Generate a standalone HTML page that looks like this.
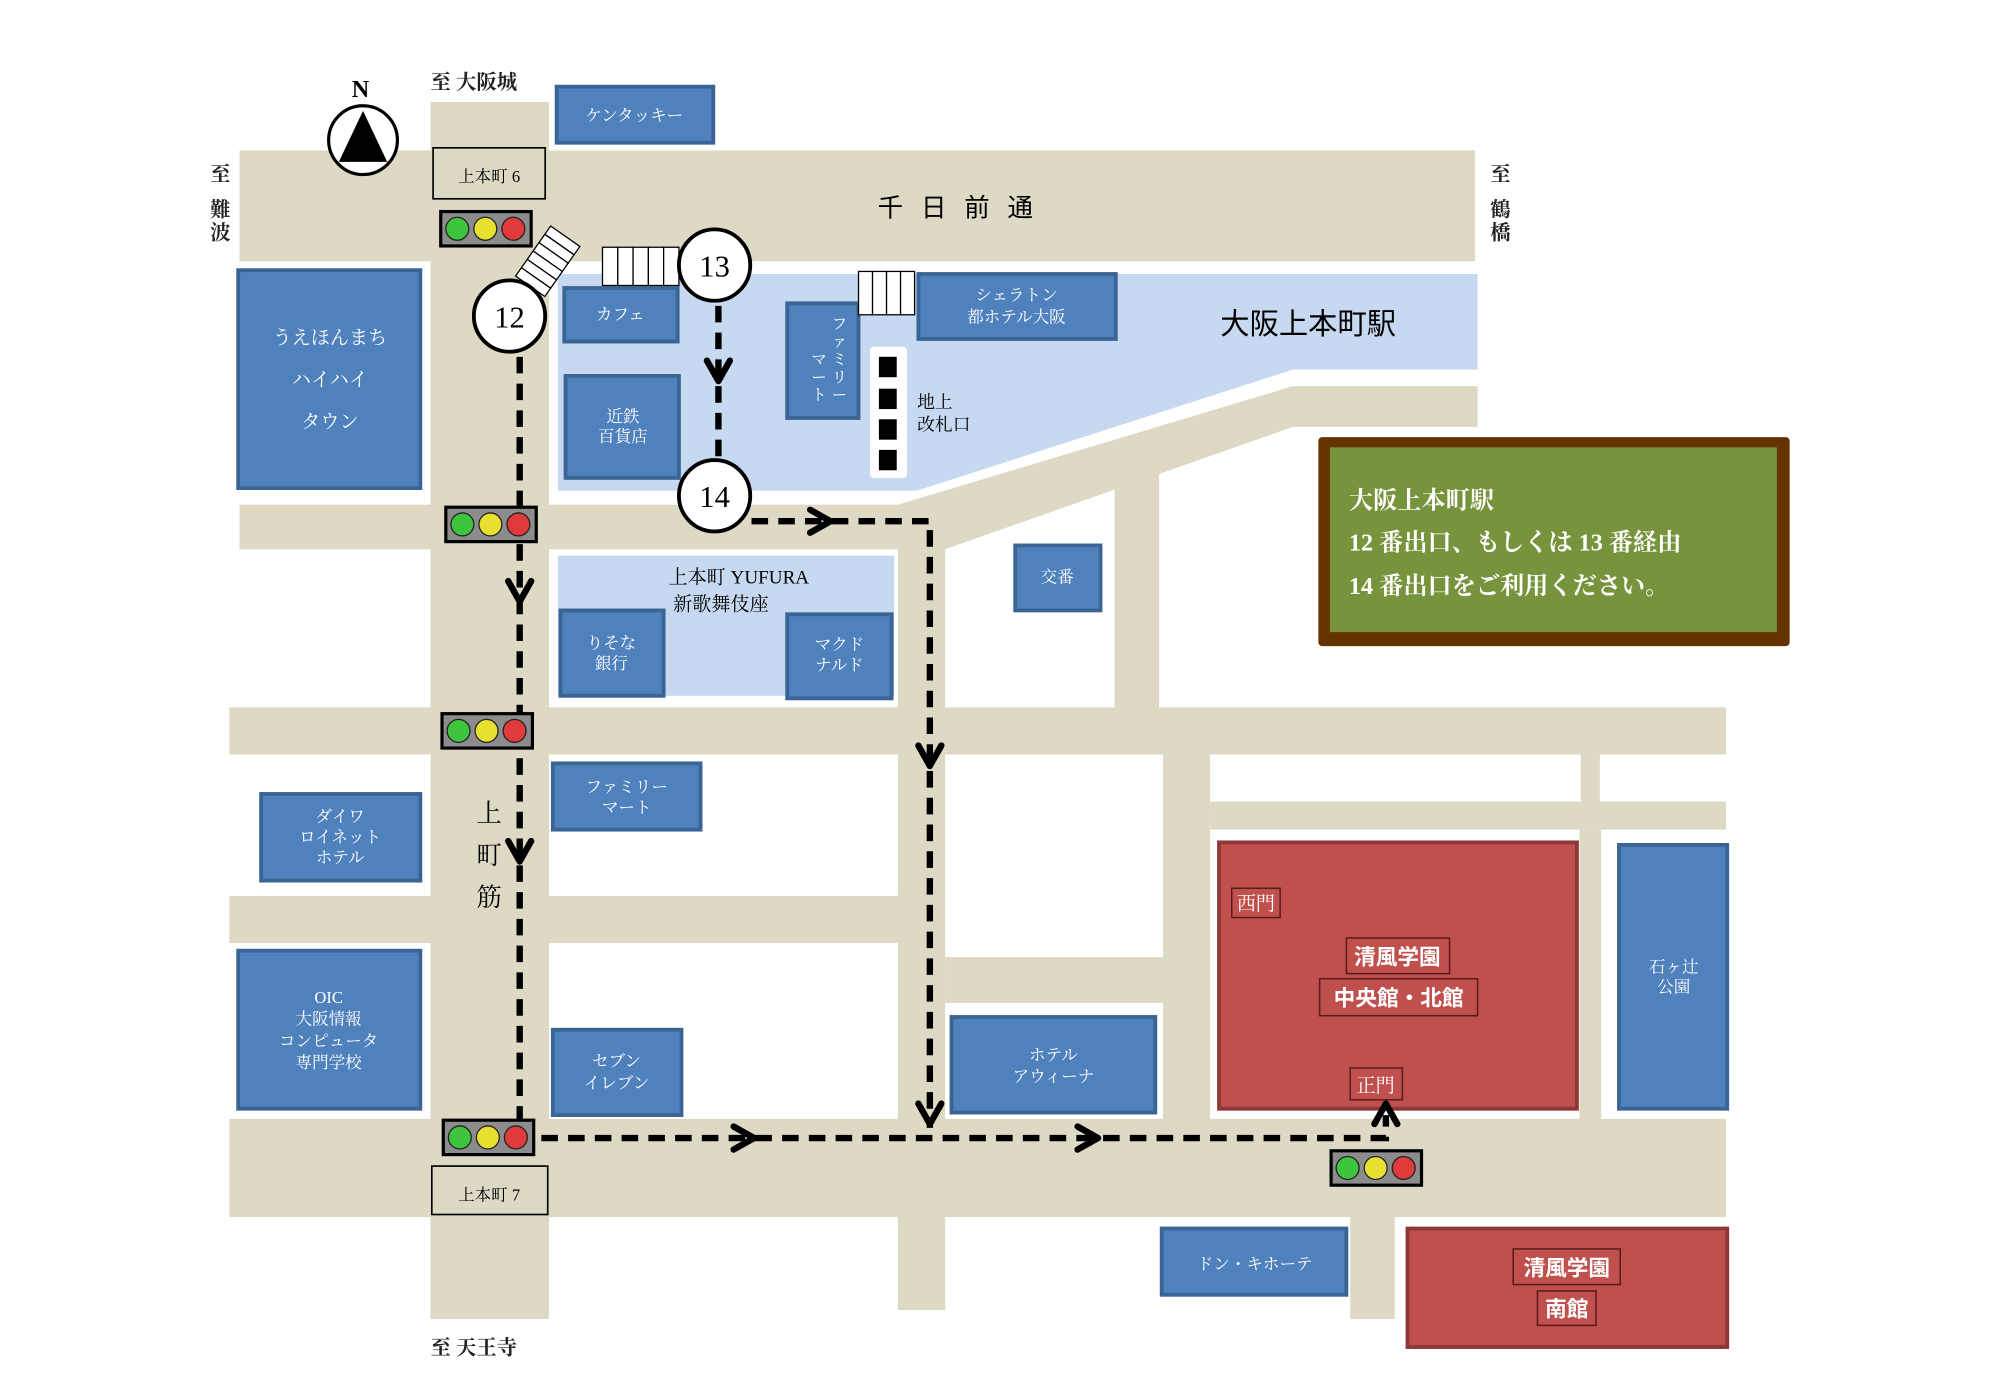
<!DOCTYPE html>
<html><head><meta charset="utf-8"><style>
html,body{margin:0;padding:0;background:#fff;}
svg{display:block;}
text{font-family:"Liberation Serif","Noto Serif CJK SC","Noto Sans CJK JP",serif;}
.w{fill:#fff;font-size:13px;text-anchor:middle;}
.b{fill:#4f81bd;stroke:#3a6494;stroke-width:3;}
.r{fill:#c0504d;stroke:#8c3836;stroke-width:3;}
.rd{fill:#ddd9c4;}
.lb{fill:#c6d9f1;}
.dash{stroke:#000;stroke-width:5;stroke-dasharray:13,8;fill:none;}
.ar{stroke:#000;stroke-width:5;fill:none;stroke-linecap:round;stroke-linejoin:round;}
.lab{fill:#c0504d;stroke:#5a1c1a;stroke-width:1.2;}
.wb{fill:#fff;font-size:17px;font-weight:bold;text-anchor:middle;font-family:"Liberation Sans","Noto Sans CJK JP",sans-serif;}
</style></head><body>
<svg width="1996" height="1384" viewBox="0 0 1567 1086" preserveAspectRatio="none" xmlns="http://www.w3.org/2000/svg">
<defs>
<g id="tl">
<rect x="0" y="0" width="71" height="27" fill="#8c8c8c" stroke="#000" stroke-width="2.5"/>
<circle cx="13" cy="13.5" r="9" fill="#3ec43e" stroke="#222"/><circle cx="35" cy="13.5" r="9" fill="#e8e030" stroke="#222"/><circle cx="57" cy="13.5" r="9" fill="#e03a3a" stroke="#222"/>
</g>
</defs>
<rect x="0" y="0" width="1567" height="1086" fill="#fff"/>
<!-- roads -->
<rect class="rd" x="188" y="118" width="970" height="87"/>
<rect class="rd" x="338" y="80" width="93" height="955"/>
<rect class="rd" x="188" y="396" width="530" height="35"/>
<polygon class="rd" points="705,396 1015,303 1160,303 1160,335 1015,335 742,431 705,431"/>
<rect class="rd" x="875" y="372" width="35" height="185"/>
<rect class="rd" x="705" y="396" width="37" height="632"/>
<rect class="rd" x="180" y="555" width="1175" height="37"/>
<rect class="rd" x="180" y="703" width="525" height="37"/>
<rect class="rd" x="742" y="751" width="173" height="36"/>
<rect class="rd" x="913" y="588" width="37" height="292"/>
<rect class="rd" x="950" y="588" width="405" height="63"/>
<rect fill="#fff" x="950" y="592" width="291" height="37"/>
<rect fill="#fff" x="1256" y="592" width="99" height="37"/>
<rect class="rd" x="1240" y="651" width="17" height="229"/>
<rect class="rd" x="180" y="878" width="1175" height="77"/>
<rect class="rd" x="1060" y="950" width="35" height="85"/>
<!-- station area -->
<polygon class="lb" points="438,215 1160,215 1160,290 1015,290 720,385 438,385"/>
<rect class="lb" x="438" y="436" width="264" height="110"/>
<!-- buildings -->
<rect class="b" x="437" y="68" width="123" height="44"/><text class="w" x="498" y="95">ケンタッキー</text>
<rect class="b" x="187" y="212" width="143" height="171"/>
<text class="w" x="259" y="270" style="font-size:15px">うえほんまち</text>
<text class="w" x="259" y="303" style="font-size:15px">ハイハイ</text>
<text class="w" x="259" y="336" style="font-size:15px">タウン</text>
<rect class="b" x="443" y="226" width="89" height="42"/><text class="w" x="487" y="251">カフェ</text>
<rect class="b" x="444" y="295" width="89" height="80"/><text class="w" x="489" y="331">近鉄</text><text class="w" x="489" y="347">百貨店</text>
<rect class="b" x="618" y="238" width="56" height="90"/>
<g class="w" style="font-size:12px">
<text x="659" y="258">フ</text><text x="659" y="272">ァ</text><text x="659" y="286">ミ</text><text x="659" y="300">リ</text><text x="659" y="314">ー</text>
<text x="643" y="286">マ</text><text x="643" y="300">ー</text><text x="643" y="314">ト</text>
</g>
<rect class="b" x="721" y="215" width="155" height="51"/><text class="w" x="798" y="236">シェラトン</text><text class="w" x="798" y="253">都ホテル大阪</text>
<rect class="b" x="797" y="428" width="67" height="51"/><text class="w" x="830" y="457">交番</text>
<rect class="b" x="440" y="479" width="81" height="67"/><text class="w" x="480" y="509">りそな</text><text class="w" x="480" y="525">銀行</text>
<rect class="b" x="618" y="482" width="82" height="66"/><text class="w" x="659" y="510">マクド</text><text class="w" x="659" y="526">ナルド</text>
<rect class="b" x="434" y="599" width="116" height="52"/><text class="w" x="492" y="622">ファミリー</text><text class="w" x="492" y="638">マート</text>
<rect class="b" x="205" y="623" width="125" height="68"/><text class="w" x="267" y="645">ダイワ</text><text class="w" x="267" y="661">ロイネット</text><text class="w" x="267" y="677">ホテル</text>
<rect class="b" x="187" y="746" width="143" height="124"/><text class="w" x="258" y="787">OIC</text><text class="w" x="258" y="804">大阪情報</text><text class="w" x="258" y="821">コンピュータ</text><text class="w" x="258" y="838">専門学校</text>
<rect class="b" x="434" y="808" width="101" height="67"/><text class="w" x="484" y="837">セブン</text><text class="w" x="484" y="854">イレブン</text>
<rect class="b" x="747" y="798" width="160" height="75"/><text class="w" x="827" y="832">ホテル</text><text class="w" x="827" y="849">アウィーナ</text>
<rect class="b" x="1271" y="663" width="85" height="207"/><text class="w" x="1314" y="763">石ヶ辻</text><text class="w" x="1314" y="779">公園</text>
<rect class="b" x="912" y="964" width="145" height="52"/><text class="w" x="985" y="996">ドン・キホーテ</text>
<!-- red -->
<rect class="r" x="957" y="661" width="281" height="209"/>
<rect class="lab" x="967" y="697" width="38" height="23"/><text class="w" x="986" y="714" style="font-size:15px">西門</text>
<rect class="lab" x="1057" y="736" width="81" height="28"/><text class="wb" x="1097" y="757">清風学園</text>
<rect class="lab" x="1036" y="768" width="124" height="29"/><text class="wb" x="1098" y="789">中央館・北館</text>
<rect class="lab" x="1060" y="838" width="41" height="25"/><text class="w" x="1080" y="857" style="font-size:15px">正門</text>
<rect class="r" x="1105" y="964" width="251" height="93"/>
<rect class="lab" x="1188" y="980" width="84" height="28"/><text class="wb" x="1230" y="1001">清風学園</text>
<rect class="lab" x="1207" y="1013" width="46" height="27"/><text class="wb" x="1230" y="1033">南館</text>
<!-- green box -->
<rect x="1035" y="343" width="370" height="164" fill="#663300" rx="3"/>
<rect x="1044" y="351" width="351" height="145" fill="#77933c"/>
<g style="font-family:'Liberation Sans','Noto Sans CJK JP',sans-serif;font-weight:bold;font-size:19px;fill:#fff">
<text x="1059" y="399">大阪上本町駅</text>
<text x="1059" y="432">12 番出口、もしくは 13 番経由</text>
<text x="1059" y="466">14 番出口をご利用ください。</text></g>
<!-- gate -->
<rect x="683" y="272" width="29" height="103" fill="#fff" rx="3"/>
<g fill="#000"><rect x="690" y="280" width="14" height="16"/><rect x="690" y="305" width="14" height="16"/><rect x="690" y="329" width="14" height="16"/><rect x="690" y="353" width="14" height="16"/></g>
<text x="720" y="320" style="font-size:14px">地上</text><text x="720" y="338" style="font-size:14px">改札口</text>
<!-- crosswalks -->
<g fill="#fff" stroke="#000" stroke-width="1">
<rect x="473" y="194" width="12" height="30"/><rect x="485" y="194" width="12" height="30"/><rect x="497" y="194" width="12" height="30"/><rect x="509" y="194" width="12" height="30"/><rect x="521" y="194" width="12" height="30"/>
<rect x="674" y="213" width="11" height="34"/><rect x="685" y="213" width="11" height="34"/><rect x="696" y="213" width="11" height="34"/><rect x="707" y="213" width="11" height="34"/>
<g transform="translate(430,205) rotate(35)"><rect x="-14" y="-24" width="28" height="8"/><rect x="-14" y="-16" width="28" height="8"/><rect x="-14" y="-8" width="28" height="8"/><rect x="-14" y="0" width="28" height="8"/><rect x="-14" y="8" width="28" height="8"/><rect x="-14" y="16" width="28" height="8"/></g>
</g>
<!-- signs -->
<rect x="340" y="116" width="88" height="40" fill="#ddd9c4" stroke="#000" stroke-width="1.3"/><text x="384" y="143" style="font-size:13px" text-anchor="middle">上本町 6</text>
<rect x="339" y="915" width="91" height="38" fill="#ddd9c4" stroke="#000" stroke-width="1.3"/><text x="384" y="942" style="font-size:13px" text-anchor="middle">上本町 7</text>
<!-- dashed paths -->
<path class="dash" d="M408,280 V893 H1088 V875"/>
<path class="dash" d="M564,240 V362"/>
<path class="dash" d="M590,409 H730 V885"/>
<g class="ar">
<path d="M399,456 L408,472 L417,456"/><path d="M399,660 L408,676 L417,660"/>
<path d="M555,283 L564,299 L573,283"/>
<path d="M636,400 L652,409 L636,418"/>
<path d="M721,585 L730,601 L739,585"/><path d="M721,866 L730,882 L739,866"/>
<path d="M576,884 L592,893 L576,902"/><path d="M846,884 L862,893 L846,902"/>
<path d="M1079,882 L1088,866 L1097,882"/>
</g>
<!-- circles -->
<g stroke="#000" stroke-width="3" fill="#fff"><circle cx="400" cy="248" r="28"/><circle cx="561" cy="208" r="28"/><circle cx="561" cy="389" r="28"/></g>
<g style="font-size:24px" text-anchor="middle"><text x="400" y="257">12</text><text x="561" y="217">13</text><text x="561" y="398">14</text></g>
<!-- traffic lights -->
<use href="#tl" x="346" y="166"/><use href="#tl" x="350" y="398"/><use href="#tl" x="347" y="560"/><use href="#tl" x="348" y="879"/><use href="#tl" x="1045" y="903"/>
<!-- compass -->
<circle cx="285" cy="110" r="27" fill="#fff" stroke="#000" stroke-width="2.5"/>
<polygon points="285,87 304,127 266,127" fill="#000"/>
<text x="283" y="76" text-anchor="middle" style="font-size:19px;font-weight:bold">N</text>
<!-- labels -->
<g style="font-family:'Liberation Sans','Noto Sans CJK JP',sans-serif;font-weight:bold;font-size:16px" fill="#222">
<text x="338" y="70">至 大阪城</text>
<text x="338" y="1063">至 天王寺</text>
<text x="165" y="142">至</text><text x="165" y="170">難</text><text x="165" y="188">波</text>
<text x="1170" y="142">至</text><text x="1170" y="170">鶴</text><text x="1170" y="188">橋</text>
</g>
<text x="757" y="170" text-anchor="middle" style="font-size:20px;letter-spacing:14px;font-family:'Liberation Sans','Noto Sans CJK JP',sans-serif">千日前通</text>
<text x="1027" y="262" text-anchor="middle" style="font-size:23px;font-family:'Liberation Sans','Noto Sans CJK JP',sans-serif">大阪上本町駅</text>
<g style="font-size:20px" text-anchor="middle"><text x="384" y="645">上</text><text x="384" y="678">町</text><text x="384" y="711">筋</text></g>
<text x="580" y="458" text-anchor="middle" style="font-size:15px">上本町 YUFURA</text>
<text x="566" y="479" text-anchor="middle" style="font-size:15px">新歌舞伎座</text>
</svg>
</body></html>
